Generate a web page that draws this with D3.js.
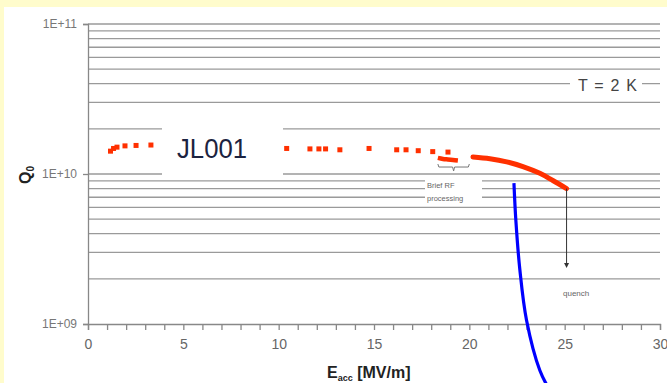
<!DOCTYPE html>
<html><head><meta charset="utf-8">
<script src="https://cdn.jsdelivr.net/npm/d3@7"></script>
<style>
html,body{margin:0;padding:0;background:#fffccc;}
svg{display:block;}
</style></head>
<body>
<svg id="c" width="667" height="383"></svg>
<script>
// ---- data ----
const lowE  = [1.18, 1.34, 1.52, 1.94, 2.52, 3.30];
const lowQ  = [1.42e10, 1.48e10, 1.51e10, 1.54e10, 1.55e10, 1.56e10];
const midE  = [10.42, 11.64, 12.11, 12.46, 13.21, 14.74, 16.19, 16.68, 17.32, 18.08, 18.88];
const midQ  = [1.48e10, 1.47e10, 1.47e10, 1.47e10, 1.45e10, 1.48e10, 1.45e10, 1.45e10, 1.43e10, 1.41e10, 1.40e10];
const rfE   = [18.35, 18.62, 18.88, 19.14, 19.40];
const rfQ   = [1.28e10, 1.26e10, 1.25e10, 1.24e10, 1.23e10];
const hiE   = [20.19, 21.08, 21.96, 22.81, 23.70, 24.38, 25.10];
const hiQ   = [1.30e10, 1.265e10, 1.205e10, 1.12e10, 1.01e10, 9.05e9, 8.0e9];
const blueE = [22.34, 22.44, 22.65, 23.00, 23.70, 24.23];
const blueQ = [8.7e9, 4.9e9, 2.3e9, 1.06e9, 4.9e8, 3.6e8];
const xTicks = [0, 5, 10, 15, 20, 25, 30];
const yTickLabels = ["1E+09", "1E+10", "1E+11"];
const yTickValues = [1e9, 1e10, 1e11];

const svg = d3.select("#c");
const W = 667, H = 383;
svg.append("rect").attr("x", 4).attr("y", 7).attr("width", W - 4).attr("height", H - 7).attr("fill", "#fff");

const x = d3.scaleLinear().domain([0, 30]).range([88, 660]);
const y = d3.scaleLog().domain([1e9, 1e11]).range([324, 24]);

// gridlines
const grid = [];
for (let d = 9; d <= 10; d++) for (let m = 1; m <= 9; m++) {
  const v = m * Math.pow(10, d);
  if (v > 1e9) grid.push(v);
}
grid.push(1e11);
svg.append("g").selectAll("line").data(grid).join("line")
  .attr("x1", x(0)).attr("x2", x(30))
  .attr("y1", d => y(d)).attr("y2", d => y(d))
  .attr("stroke", "#9a9a9a").attr("stroke-width", 1.3);

// label boxes (white) interrupting gridlines
svg.append("rect").attr("x", 162).attr("y", 121).attr("width", 121).attr("height", 57).attr("fill", "#fff");
svg.append("rect").attr("x", 425).attr("y", 177).attr("width", 57).attr("height", 25).attr("fill", "#fff");
svg.append("rect").attr("x", 570).attr("y", 76).attr("width", 72).attr("height", 18).attr("fill", "#fff");

// axes
const yAxis = d3.axisLeft(y).tickValues(yTickValues).tickFormat((d, i) => yTickLabels[i]).tickSize(5).tickPadding(6);
const gy = svg.append("g").attr("transform", `translate(${x(0)},0)`).call(yAxis);
gy.select(".domain").attr("stroke", "#888").attr("stroke-width", 1.3);
gy.selectAll(".tick line").attr("stroke", "#888").attr("stroke-width", 1.3);
gy.selectAll("text").attr("fill", "#777").attr("font-family", "Liberation Sans, Arial, sans-serif").attr("font-size", 12);

const xAxis = d3.axisBottom(x).tickValues(d3.range(0, 31)).tickFormat(d => xTicks.includes(d) ? d : "").tickSize(6).tickPadding(9);
const gx = svg.append("g").attr("transform", `translate(0,${y(1e9)})`).call(xAxis);
gx.select(".domain").attr("stroke", "#888").attr("stroke-width", 1.3);
gx.selectAll(".tick line").attr("stroke", "#888").attr("stroke-width", 1.3);
gx.selectAll("text").attr("fill", "#666").attr("font-family", "Liberation Sans, Arial, sans-serif").attr("font-size", 14);

// axis titles
const xt = svg.append("text").attr("x", 327).attr("y", 378).attr("fill", "#222")
  .attr("font-family", "Liberation Sans, Arial, sans-serif").attr("font-weight", "bold").attr("font-size", 16);
xt.append("tspan").text("E");
xt.append("tspan").attr("font-size", 9).attr("dy", 3).text("acc");
xt.append("tspan").attr("dy", -3).text(" [MV/m]");

const yt = svg.append("text").attr("transform", "translate(31,184) rotate(-90)").attr("fill", "#222")
  .attr("font-family", "Liberation Sans, Arial, sans-serif").attr("font-weight", "bold").attr("font-size", 16);
yt.append("tspan").text("Q");
yt.append("tspan").attr("font-size", 10).attr("dy", 3).text("0");

// data: red
const red = "#ff3000";
const sq = 5;
const pts = [];
lowE.forEach((e, i) => pts.push([e, lowQ[i]]));
midE.forEach((e, i) => pts.push([e, midQ[i]]));
svg.append("g").selectAll("rect").data(pts).join("rect")
  .attr("x", d => x(d[0]) - sq / 2).attr("y", d => y(d[1]) - sq / 2)
  .attr("width", sq).attr("height", sq).attr("fill", red);

const line = d3.line().x(d => x(d[0])).y(d => y(d[1])).curve(d3.curveCatmullRom);
svg.append("path").attr("d", line(rfE.map((e, i) => [e, rfQ[i]])))
  .attr("fill", "none").attr("stroke", red).attr("stroke-width", 4.5);
svg.append("path").attr("d", line(hiE.map((e, i) => [e, hiQ[i]])))
  .attr("fill", "none").attr("stroke", red).attr("stroke-width", 5).attr("stroke-linecap", "round");

// blue curve
const bline = d3.line().x(d => x(d[0])).y(d => y(d[1])).curve(d3.curveCatmullRom);
svg.append("path").attr("d", bline(blueE.map((e, i) => [e, blueQ[i]])))
  .attr("fill", "none").attr("stroke", "#0000ff").attr("stroke-width", 3.2);

// annotations
svg.append("text").attr("x", 177).attr("y", 158).attr("fill", "#1c2340")
  .attr("font-family", "Liberation Sans, Arial, sans-serif").attr("font-size", 27)
  .attr("textLength", 70).attr("lengthAdjust", "spacingAndGlyphs").text("JL001");

svg.append("text").attr("x", 578).attr("y", 91).attr("fill", "#444")
  .attr("font-family", "Liberation Sans, Arial, sans-serif").attr("font-size", 16)
  .attr("textLength", 59).text("T = 2 K");

svg.append("text").attr("x", 427).attr("y", 188).attr("fill", "#666")
  .attr("font-family", "Liberation Sans, Arial, sans-serif").attr("font-size", 7.5).text("Brief RF");
svg.append("text").attr("x", 427).attr("y", 201).attr("fill", "#666")
  .attr("font-family", "Liberation Sans, Arial, sans-serif").attr("font-size", 7.5).text("processing");

// bracket
const bx0 = x(18.35), bx1 = x(20.0), by = y(1.113e10), bm = (bx0 + bx1) / 2;
svg.append("path")
  .attr("d", `M${bx0},${by - 3} L${bx0 + 1},${by} L${bm - 1},${by} L${bm},${by + 4} L${bm + 1},${by} L${bx1 - 1},${by} L${bx1},${by - 3}`)
  .attr("fill", "none").attr("stroke", "#777").attr("stroke-width", 1);

// quench arrow
const qx = x(25.1);
svg.append("line").attr("x1", qx).attr("x2", qx).attr("y1", y(8.0e9)).attr("y2", y(2.4e9) - 2)
  .attr("stroke", "#333").attr("stroke-width", 1);
svg.append("path").attr("d", `M${qx - 2.5},${y(2.4e9) - 4} L${qx + 2.5},${y(2.4e9) - 4} L${qx},${y(2.4e9) + 1} Z`).attr("fill", "#333");
svg.append("text").attr("x", 563).attr("y", 296).attr("fill", "#666")
  .attr("font-family", "Liberation Sans, Arial, sans-serif").attr("font-size", 8).text("quench");
</script>
</body></html>
